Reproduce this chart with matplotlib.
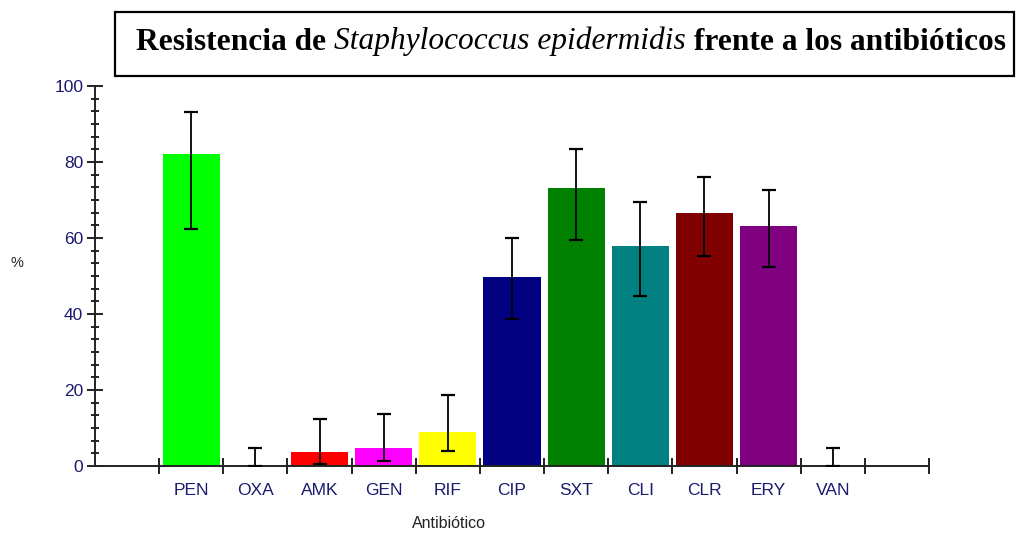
import matplotlib
matplotlib.use("Agg")
import matplotlib.pyplot as plt
from matplotlib.patches import Rectangle
from matplotlib.ticker import MultipleLocator, AutoMinorLocator, FixedLocator, NullFormatter

categories = ["PEN", "OXA", "AMK", "GEN", "RIF", "CIP", "SXT", "CLI", "CLR", "ERY", "VAN"]
values = [82.0, 0.0, 3.6, 4.8, 9.0, 49.7, 73.2, 58.0, 66.5, 63.1, 0.0]
err_low = [62.4, 0.0, 0.4, 1.3, 3.9, 38.8, 59.5, 44.7, 55.3, 52.4, 0.0]
err_high = [93.2, 4.7, 12.3, 13.6, 18.6, 59.9, 83.5, 69.6, 76.0, 72.6, 4.7]
colors = ["#00FF00", "#00FFFF", "#FF0000", "#FF00FF", "#FFFF00", "#000080",
          "#008000", "#008080", "#800000", "#800080", "#C0C0C0"]

W, H = 1016, 533
fig = plt.figure(figsize=(W / 100, H / 100), dpi=100)
left, right, bottom, top = 95, 929, 466, 86
ax = fig.add_axes([left / W, 1 - bottom / H, (right - left) / W, (bottom - top) / H])

x = list(range(len(categories)))
ax.bar(x, values, width=0.89, color=colors, edgecolor="none", zorder=2)
lo = [v - l for v, l in zip(values, err_low)]
hi = [h - v for v, h in zip(values, err_high)]
ax.errorbar(x, values, yerr=[lo, hi], fmt="none", ecolor="black", elinewidth=1.3,
            capsize=5, capthick=1.6, zorder=3)

ax.set_xlim(-1.5, 11.5)
ax.set_ylim(0, 100)
for s in ["top", "right"]:
    ax.spines[s].set_visible(False)
for s in ["left", "bottom"]:
    ax.spines[s].set_linewidth(1.4)
    ax.spines[s].set_color("#222222")

# y ticks
ax.yaxis.set_major_locator(MultipleLocator(20))
ax.yaxis.set_minor_locator(AutoMinorLocator(6))
ax.tick_params(axis="y", which="major", direction="inout", length=12, width=1.4,
               colors="#222222", labelcolor="#1a1a6e", labelsize=12.5, pad=2.5)
ax.tick_params(axis="y", which="minor", direction="inout", length=5.5, width=1.4, colors="#222222")

# x ticks: boundaries between slots, labels centered
ax.xaxis.set_major_locator(FixedLocator([i + 0.5 for i in range(-1, 12)]))
ax.xaxis.set_major_formatter(NullFormatter())
ax.xaxis.set_minor_locator(FixedLocator(x))
ax.set_xticks(x, categories, minor=True)
ax.tick_params(axis="x", which="major", direction="inout", length=11.5, width=1.4, colors="#222222")
ax.tick_params(axis="x", which="minor", length=0, labelcolor="#1a1a6e", labelsize=12.5, pad=12)

for lab in ax.get_xticklabels(minor=True) + ax.get_yticklabels():
    lab.set_fontfamily("Liberation Sans")

fig.text(449 / W, 1 - 523 / H, "Antibiótico", fontsize=11.5,
         family="Liberation Sans", color="#222222", ha="center", va="center")
fig.text(17 / W, 1 - 263 / H, "%", fontsize=10.5, family="Liberation Sans",
         color="#222222", ha="center", va="center")

# Title box
fig.patches.append(Rectangle((115 / W, 1 - 76 / H), (1014 - 115) / W, (76 - 12) / H,
                             transform=fig.transFigure, fill=False, lw=1.6,
                             edgecolor="black"))

# Title with mixed styles
parts = [("Resistencia de ", "bold", "normal"),
         ("Staphylococcus epidermidis", "normal", "italic"),
         (" frente a los antibióticos", "bold", "normal")]
renderer = fig.canvas.get_renderer()


def width_of(s, w, st, size):
    t = fig.text(0, 0, s.replace(" ", "\u00a0"), fontsize=size, fontweight=w, fontstyle=st,
                 family="Liberation Serif")
    bb = t.get_window_extent(renderer)
    t.remove()
    return bb.width


base = 10
target = 1005 - 136
tot = sum(width_of(s, w, st, base) for s, w, st in parts)
size = base * target / tot
xpos = 136
for s, w, st in parts:
    fig.text(xpos / W, 1 - 49.5 / H, s.replace(" ", "\u00a0"), fontsize=size,
             fontweight=w, fontstyle=st, family="Liberation Serif",
             va="baseline", ha="left")
    xpos += width_of(s, w, st, size)

fig.savefig("out.png", dpi=100)
